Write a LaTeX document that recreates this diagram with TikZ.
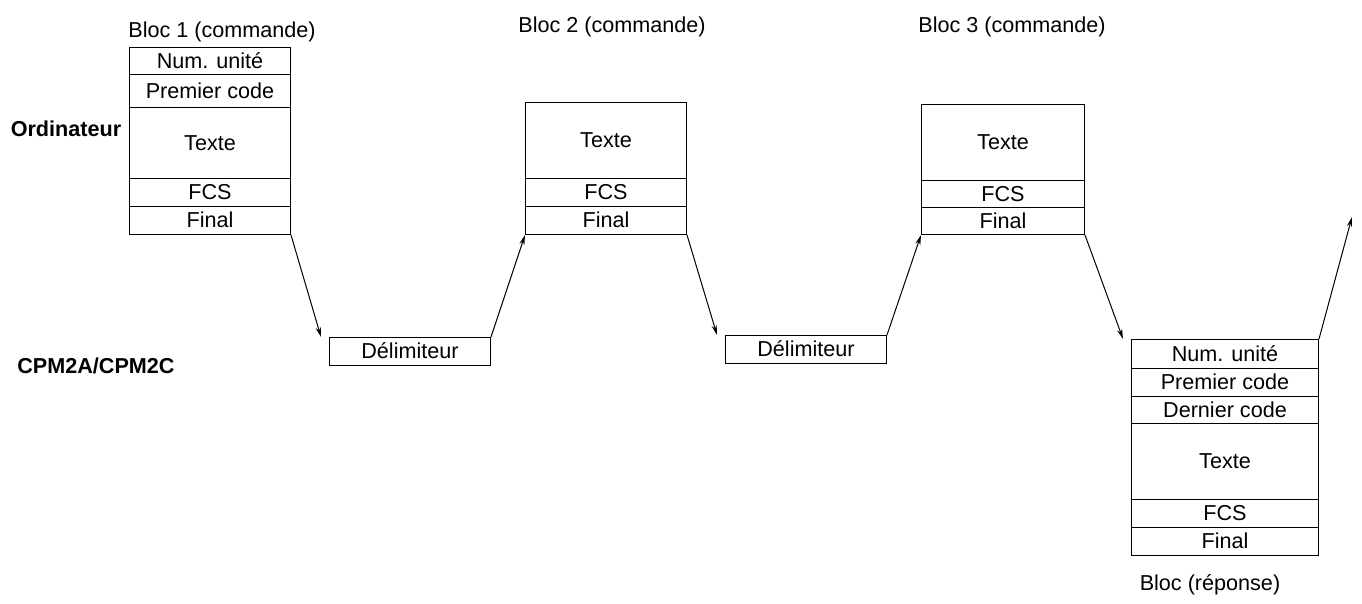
\documentclass[tikz,border=0pt]{standalone}
\usepackage{fontspec}
\setmainfont{Liberation Sans}
\usetikzlibrary{arrows.meta}
\begin{document}
\begin{tikzpicture}[x=0.5pt,y=-0.5pt,
  cell/.style={draw,line width=0.5pt,inner sep=0pt,anchor=north west,text height=7.8pt,text depth=0.4pt,font=\fontsize{10.8}{12}\selectfont},
  lbl/.style={font=\fontsize{10.8}{12}\selectfont,inner sep=0pt},
  arr/.style={line width=0.5pt,-{Stealth[length=5pt,width=2.6pt]}}]
\useasboundingbox (0,0) rectangle (1362,604);
\newcommand{\cellbox}[6]{\node[cell,minimum width={(#4-#2)*0.5pt},minimum height={(#5-#3)*0.5pt}] (#1) at (#2,#3) {#6};}
% Block 1
\cellbox{a1}{129}{47}{290}{74}{Num. unité}
\cellbox{a2}{129}{74}{290}{107}{Premier code}
\cellbox{a3}{129}{107}{290}{178}{Texte}
\cellbox{a4}{129}{178}{290}{206}{FCS}
\cellbox{a5}{129}{206}{290}{234}{Final}
\node[lbl] (la) at (222,32) {Bloc 1 (commande)};
% Block 2
\cellbox{b3}{525}{102}{686}{178}{Texte}
\cellbox{b4}{525}{178}{686}{206}{FCS}
\cellbox{b5}{525}{206}{686}{234}{Final}
\node[lbl] (lb) at (612,27) {Bloc 2 (commande)};
% Block 3
\cellbox{c3}{921}{104}{1084}{180}{Texte}
\cellbox{c4}{921}{180}{1084}{207}{FCS}
\cellbox{c5}{921}{207}{1084}{234}{Final}
\node[lbl] (lc) at (1012,27) {Bloc 3 (commande)};
% Delimiters
\cellbox{d1}{329}{337}{490}{365}{Délimiteur}
\cellbox{d2}{725}{335}{886}{363}{Délimiteur}
% Response
\cellbox{r1}{1131}{339}{1318}{368}{Num. unité}
\cellbox{r2}{1131}{368}{1318}{396}{Premier code}
\cellbox{r3}{1131}{396}{1318}{423}{Dernier code}
\cellbox{r4}{1131}{423}{1318}{499}{Texte}
\cellbox{r5}{1131}{499}{1318}{527}{FCS}
\cellbox{r6}{1131}{527}{1318}{555}{Final}
\node[lbl] (lr) at (1210,585) {Bloc (réponse)};
% Side labels
\node[lbl,font=\fontsize{10.8}{12}\selectfont\bfseries] (ord) at (66,129) {Ordinateur};
\node[lbl,font=\fontsize{10.8}{12}\selectfont\bfseries] (cpm) at (96,366) {CPM2A/CPM2C};
% Connectors
\coordinate (fe) at (1352,217);
\draw[arr] (a5.south east) -- ([xshift=-4]d1.north west);
\draw[arr] (d1.north east) -- (b5.south west);
\draw[arr] (b5.south east) -- ([xshift=-4]d2.north west);
\draw[arr] (d2.north east) -- (c5.south west);
\draw[arr] (c5.south east) -- ([xshift=-4]r1.north west);
\draw[arr] (r1.north east) -- (fe);
\end{tikzpicture}
\end{document}
